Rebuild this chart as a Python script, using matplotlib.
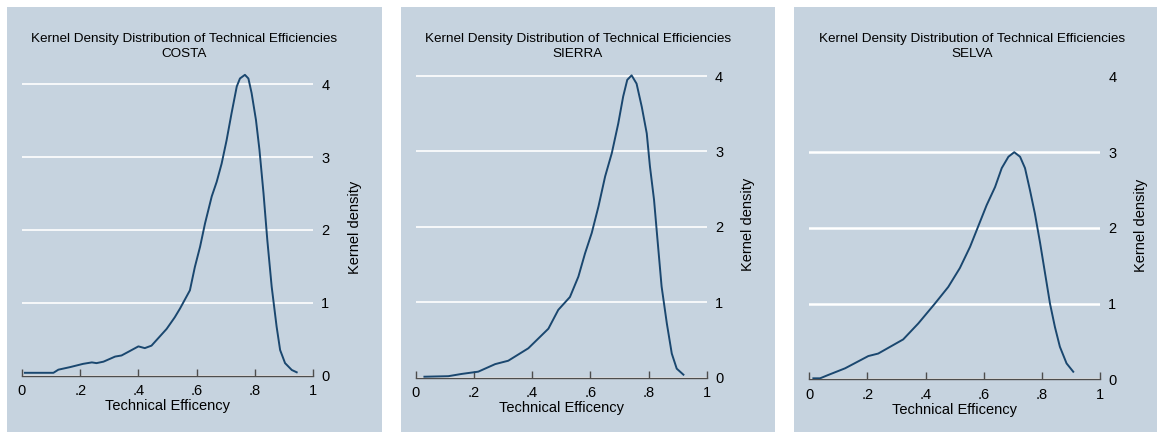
import matplotlib
matplotlib.use('Agg')
import matplotlib.pyplot as plt
from matplotlib.patches import Rectangle

plt.rcParams['font.family'] = ['Liberation Sans', 'DejaVu Sans']

title_main = 'Kernel Density Distribution of Technical Efficiencies'
regions = ['COSTA', 'SIERRA', 'SELVA']
x_label = 'Technical Efficency'
y_label = 'Kernel density'
x_ticks = [0, 0.2, 0.4, 0.6, 0.8, 1]
x_tick_labels = ['0', '.2', '.4', '.6', '.8', '1']
y_ticks = [0, 1, 2, 3, 4]

# values
costa_x = [0.01, 0.108, 0.125, 0.165, 0.21, 0.24, 0.256, 0.28, 0.32, 0.342, 0.37, 0.40,
           0.422, 0.445, 0.497, 0.525, 0.543, 0.577, 0.594, 0.612, 0.629, 0.652, 0.669,
           0.686, 0.703, 0.72, 0.738, 0.749, 0.766, 0.778, 0.789, 0.804, 0.816, 0.83,
           0.843, 0.858, 0.875, 0.887, 0.904, 0.927, 0.944]
costa_y = [0.037, 0.037, 0.08, 0.115, 0.16, 0.18, 0.17, 0.19, 0.26, 0.275, 0.335, 0.40,
           0.376, 0.41, 0.64, 0.80, 0.92, 1.17, 1.49, 1.77, 2.09, 2.46, 2.66,
           2.91, 3.23, 3.60, 3.97, 4.08, 4.13, 4.08, 3.88, 3.51, 3.10, 2.50,
           1.86, 1.22, 0.67, 0.35, 0.17, 0.076, 0.044]

sierra_x = [0.03, 0.112, 0.158, 0.215, 0.273, 0.318, 0.387, 0.456, 0.49, 0.53, 0.559,
            0.582, 0.605, 0.628, 0.651, 0.674, 0.696, 0.713, 0.727, 0.742, 0.759, 0.777,
            0.794, 0.805, 0.819, 0.83, 0.845, 0.863, 0.88, 0.897, 0.92]
sierra_y = [0.013, 0.02, 0.05, 0.08, 0.18, 0.225, 0.39, 0.65, 0.90, 1.07, 1.34,
            1.65, 1.92, 2.27, 2.67, 2.98, 3.37, 3.73, 3.95, 4.01, 3.90, 3.59,
            3.24, 2.80, 2.36, 1.87, 1.21, 0.72, 0.32, 0.12, 0.04]

selva_x = [0.014, 0.037, 0.065, 0.123, 0.203, 0.237, 0.323, 0.375, 0.432, 0.478, 0.518,
           0.553, 0.581, 0.61, 0.639, 0.662, 0.685, 0.705, 0.725, 0.742, 0.759, 0.776,
           0.794, 0.811, 0.828, 0.845, 0.862, 0.885, 0.908]
selva_y = [0.013, 0.013, 0.057, 0.145, 0.307, 0.34, 0.527, 0.738, 1.0, 1.22, 1.47,
           1.75, 2.02, 2.30, 2.54, 2.79, 2.94, 3.0, 2.94, 2.79, 2.50, 2.19,
           1.80, 1.40, 1.0, 0.69, 0.43, 0.21, 0.10]

series = [(costa_x, costa_y), (sierra_x, sierra_y), (selva_x, selva_y)]

W, H = 1157, 432
bg = '#c6d3df'
line_col = '#1a476f'
ytop = 4.25

# panel layout in pixels: background left/right, axes x0/x1, y of zero, px per unit, title centre
panels = [
    dict(bl=7, br=382, x0=22, x1=313, y0=375.5, u=72.8, tc=184, grid_max=4, glw=1.2),
    dict(bl=401, br=775, x0=415.7, x1=706.7, y0=377.7, u=75.4, tc=578, grid_max=4, glw=1.2),
    dict(bl=794, br=1157, x0=809.3, x1=1100, y0=379.3, u=75.7, tc=972, grid_max=3, glw=1.8),
]

fig = plt.figure(figsize=(W / 100, H / 100), dpi=100)
fig.patch.set_facecolor('white')

for i, p in enumerate(panels):
    fig.patches.append(Rectangle((p['bl'] / W, 0), (p['br'] - p['bl']) / W, 1 - 7 / H,
                                 transform=fig.transFigure, facecolor=bg,
                                 edgecolor='none', zorder=-5))
    hpx = ytop * p['u']
    wpx = p['x1'] - p['x0']
    ax = fig.add_axes([p['x0'] / W, 1 - p['y0'] / H, wpx / W, hpx / H])
    ax.set_facecolor('none')
    xs, ys = series[i]
    ax.plot(xs, ys, color=line_col, lw=1.4, zorder=3)
    ax.set_xlim(0, 1)
    ax.set_ylim(0, ytop)
    ax.set_xticks(x_ticks)
    ax.set_xticklabels(x_tick_labels)
    ax.set_yticks(y_ticks)
    ax.yaxis.tick_right()
    ax.tick_params(axis='y', length=0, pad=6, labelsize=10.5, colors='black')
    ax.tick_params(axis='x', direction='in', length=5, width=1, color='#4d4d4d',
                   pad=6, labelsize=10.5)
    for s in ['top', 'left', 'right']:
        ax.spines[s].set_visible(False)
    ax.spines['bottom'].set_color('#4d4d4d')
    ax.spines['bottom'].set_linewidth(1.0)
    for yv in y_ticks:
        if yv <= p['grid_max']:
            ax.axhline(yv, color='white', lw=p['glw'], zorder=1)
    ax.set_xlabel(x_label, fontsize=10.5, labelpad=1)
    ax.set_ylabel(y_label, fontsize=10.5, rotation=90)
    ax.yaxis.set_label_position('right')
    ax.yaxis.set_label_coords((wpx + 34.5) / wpx, 2.03 / ytop)
    fig.text(p['tc'] / W, 1 - 39 / H, title_main, ha='center', va='center', fontsize=9.7)
    fig.text(p['tc'] / W, 1 - 54 / H, regions[i], ha='center', va='center', fontsize=9.7)

fig.savefig('out.png', dpi=100, facecolor='white')
